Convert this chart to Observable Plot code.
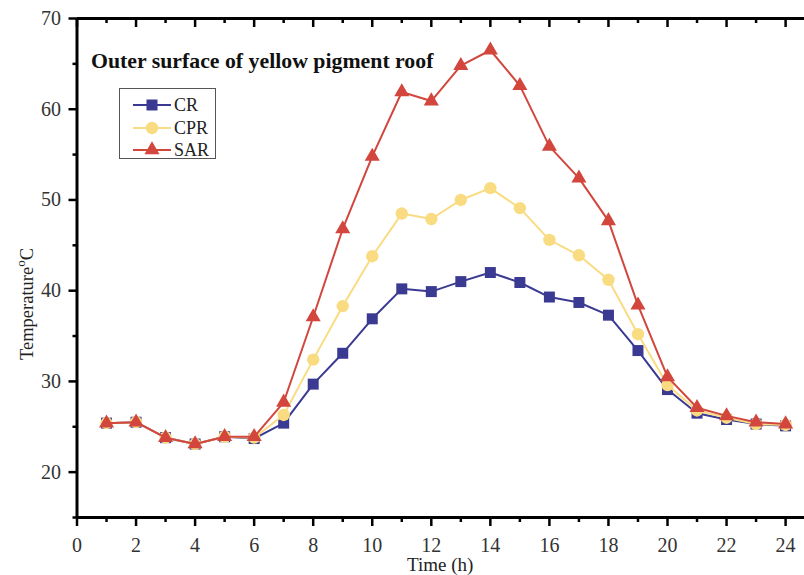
<!DOCTYPE html>
<html>
<head>
<meta charset="utf-8">
<script src="https://cdn.jsdelivr.net/npm/d3@7"></script>
<script src="https://cdn.jsdelivr.net/npm/@observablehq/plot@0.6"></script>
<style>
  html, body { margin: 0; padding: 0; background: #fff; }
  #wrap { position: relative; width: 804px; height: 575px; font-family: "Liberation Serif", "Times New Roman", serif; }
  #wrap svg { display: block; }
  .title { position: absolute; left: 91px; top: 51px; font-weight: bold; font-size: 21.8px; color: #111; white-space: nowrap; line-height: 1; }
  .legend { position: absolute; left: 119px; top: 88px; width: 97px; height: 71px; border: 1px solid #555; box-sizing: border-box; background: #fff; }
  .legend svg { position: absolute; left: 13px; }
  .legend span { position: absolute; left: 54px; font-size: 18px; color: #222; line-height: 1; }
  .xlabel { position: absolute; left: 76.5px; width: 727.5px; top: 555px; text-align: center; font-size: 19px; color: #222; line-height: 1; }
  .ylabel { position: absolute; left: 27px; top: 304px; transform: translate(-50%, -50%) rotate(-90deg); font-size: 18.5px; color: #222; white-space: nowrap; line-height: 1; }
  .ylabel sup { font-size: 13px; vertical-align: 8px; line-height: 0; }
</style>
</head>
<body>
<div id="wrap"></div>
<script>
// Data
const hours = [1,2,3,4,5,6,7,8,9,10,11,12,13,14,15,16,17,18,19,20,21,22,23,24];
const crValues  = [25.4,25.5,23.8,23.1,23.9,23.7,25.4,29.7,33.1,36.9,40.2,39.9,41.0,42.0,40.9,39.3,38.7,37.3,33.4,29.1,26.5,25.8,25.3,25.1];
const cprValues = [25.4,25.5,23.8,23.1,23.9,23.8,26.3,32.4,38.3,43.8,48.5,47.9,50.0,51.3,49.1,45.6,43.9,41.2,35.2,29.6,26.8,26.0,25.3,25.2];
const sarValues = [25.4,25.5,23.8,23.1,23.9,23.9,27.7,37.1,46.8,54.8,61.9,60.9,64.8,66.5,62.6,55.9,52.4,47.7,38.4,30.5,27.1,26.2,25.5,25.3];
const seriesNames = ["CR", "CPR", "SAR"];
const seriesColors = ["#3a3a92", "#f9dc82", "#d2463d"];
const seriesSymbols = ["square", "circle", "triangle"];
const xMajorTicks = [0,2,4,6,8,10,12,14,16,18,20,22,24];
const xMinorTicks = [1,3,5,7,9,11,13,15,17,19,21,23];
const yMajorTicks = [20,30,40,50,60,70];
const yMinorTicks = [15,25,35,45,55,65];
const titleText = "Outer surface of yellow pigment roof";
const xLabelText = "Time (h)";

const allValues = [crValues, cprValues, sarValues];
const rows = [];
allValues.forEach((vals, si) => vals.forEach((v, i) => rows.push({hour: hours[i], temp: v, series: seriesNames[si]})));

const markerR = [6.2, 6.2, 5.6];
const seriesMarks = seriesNames.flatMap((name, si) => {
  const d = rows.filter(r => r.series === name);
  return [
    Plot.line(d, {x: "hour", y: "temp", stroke: seriesColors[si], strokeWidth: 2}),
    Plot.dot(d, {x: "hour", y: "temp", fill: seriesColors[si], stroke: "none", symbol: () => seriesSymbols[si], r: markerR[si]})
  ];
});

const chart = Plot.plot({
  width: 804,
  height: 575,
  marginLeft: 76.5,
  marginRight: 0,
  marginTop: 18,
  marginBottom: 58,
  style: {fontFamily: '"Liberation Serif", "Times New Roman", serif', fontSize: "20px", color: "#333", background: "#fff"},
  x: {domain: [0, 24.64], axis: null},
  y: {domain: [15, 70], axis: null},
  symbol: {type: "identity"},
  marks: [
    // bottom axis
    Plot.axisX({anchor: "bottom", ticks: xMajorTicks, tickSize: 9, tickPadding: 11, tickFormat: d => String(d), strokeWidth: 2.5, stroke: "#000", fill: "#333", fontSize: 20, label: null}),
    Plot.axisX({anchor: "bottom", ticks: xMinorTicks, tickSize: 5, strokeWidth: 2.5, stroke: "#000", text: null, label: null}),
    // top axis (inward ticks)
    Plot.axisX({anchor: "top", ticks: xMajorTicks, tickSize: 8, dy: 8, strokeWidth: 2.5, stroke: "#000", text: null, label: null}),
    Plot.axisX({anchor: "top", ticks: xMinorTicks, tickSize: 4, dy: 4, strokeWidth: 2.5, stroke: "#000", text: null, label: null}),
    // left axis
    Plot.axisY({anchor: "left", ticks: yMajorTicks, tickSize: 8, tickPadding: 8, tickFormat: d => String(d), strokeWidth: 2.5, stroke: "#000", fill: "#333", fontSize: 20, label: null}),
    Plot.axisY({anchor: "left", ticks: yMinorTicks, tickSize: 4, strokeWidth: 2.5, stroke: "#000", text: null, label: null}),
    // axis lines
    Plot.ruleY([15], {stroke: "#000", strokeWidth: 3}),
    Plot.ruleY([70], {stroke: "#000", strokeWidth: 3}),
    Plot.ruleX([0], {stroke: "#000", strokeWidth: 3}),
    ...seriesMarks
  ]
});

const wrap = document.getElementById("wrap");
wrap.appendChild(chart);

const title = document.createElement("div");
title.className = "title";
title.textContent = titleText;
wrap.appendChild(title);

// legend
const legend = document.createElement("div");
legend.className = "legend";
const symbolFns = {square: d3.symbolSquare, circle: d3.symbolCircle, triangle: d3.symbolTriangle};
seriesNames.forEach((name, i) => {
  const cy = 16 + i * 22.5; // center within legend box
  const path = d3.symbol(symbolFns[seriesSymbols[i]], Math.PI * markerR[i] * markerR[i])();
  const svg = `<svg width="38" height="20" style="top:${cy - 10}px"><line x1="0" x2="38" y1="10" y2="10" stroke="${seriesColors[i]}" stroke-width="2"/><path transform="translate(19,10)" d="${path}" fill="${seriesColors[i]}"/></svg>`;
  legend.insertAdjacentHTML("beforeend", svg + `<span style="top:${cy - 9}px">${name}</span>`);
});
wrap.appendChild(legend);

const xl = document.createElement("div");
xl.className = "xlabel";
xl.textContent = xLabelText;
wrap.appendChild(xl);

const yl = document.createElement("div");
yl.className = "ylabel";
yl.innerHTML = "Temperature<sup>o</sup>C";
wrap.appendChild(yl);
</script>
</body>
</html>
